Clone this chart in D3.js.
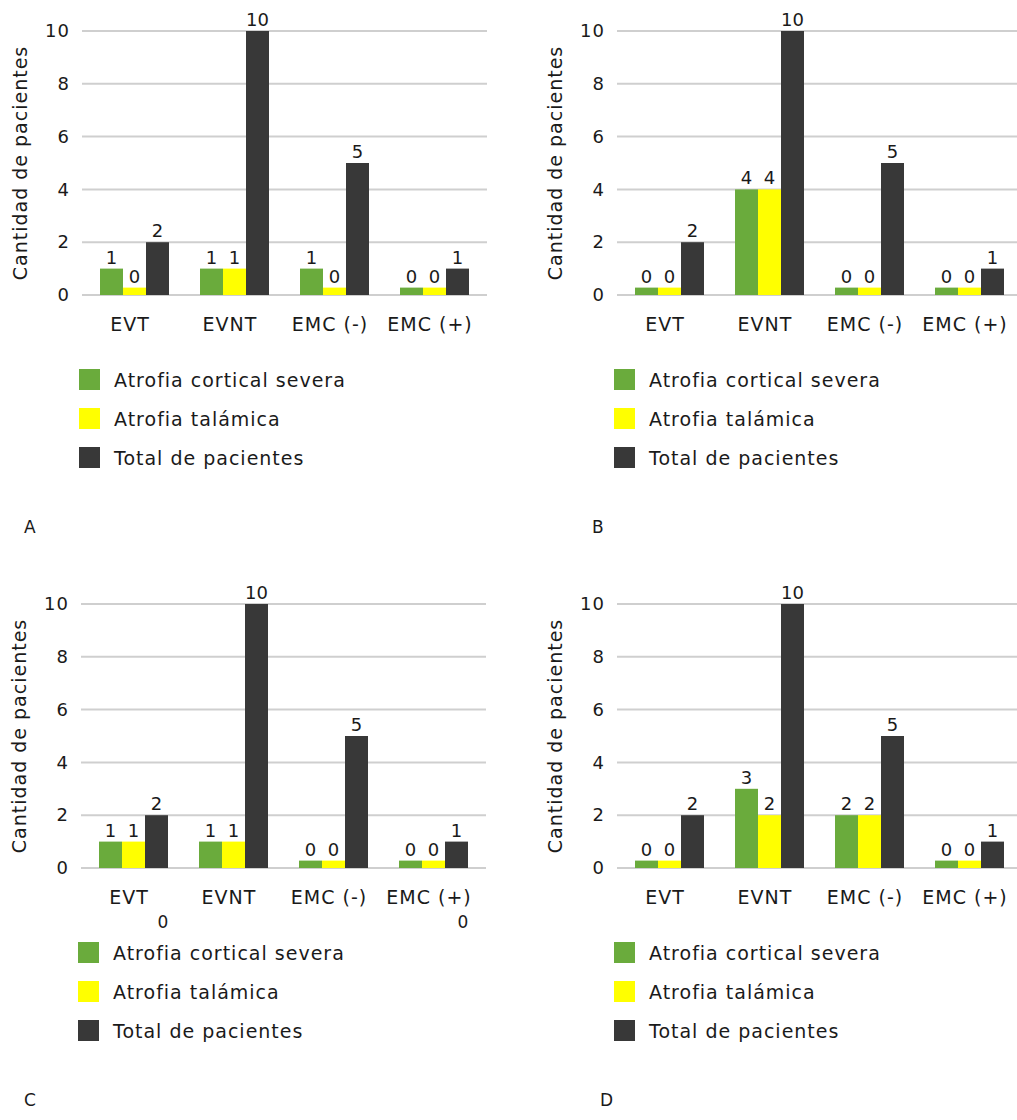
<!DOCTYPE html>
<html>
<head>
<meta charset="utf-8">
<script src="https://cdn.jsdelivr.net/npm/d3@7"></script>
<style>
  body { margin: 0; background: #fff; }
  text { font-family: "DejaVu Sans", Verdana, sans-serif; fill: #1a1a1a; }
</style>
</head>
<body>
<div id="chart"></div>
<script>
// categories and series
const categories = ["EVT", "EVNT", "EMC (-)", "EMC (+)"];
const seriesNames = ["Atrofia cortical severa", "Atrofia talámica", "Total de pacientes"];
const seriesColors = ["#6aab3c", "#ffff00", "#383838"];
const yTicks = [0, 2, 4, 6, 8, 10];
const panelLetters = ["A", "B", "C", "D"];

// values per panel
const totalPacientes = [2, 10, 5, 1];
const corticalA = [1, 1, 1, 0];
const talamicaA = [0, 1, 0, 0];
const corticalB = [0, 4, 0, 0];
const talamicaB = [0, 4, 0, 0];
const corticalC = [1, 1, 0, 0];
const talamicaC = [1, 1, 0, 0];
const corticalD = [0, 3, 2, 0];
const talamicaD = [0, 2, 2, 0];

// stray "0" labels that appear under panel C
const strayLabelsC = ["EVT", "EMC (+)"];

// zero bars are still drawn as a small stub in the original
const zeroStub = 0.28;

const panels = [
    { letter: panelLetters[0], cortical: corticalA, talamica: talamicaA, ox: 0, oy: 0, lx: 24 },
    { letter: panelLetters[1], cortical: corticalB, talamica: talamicaB, ox: 535, oy: 0, lx: 57 },
    { letter: panelLetters[2], cortical: corticalC, talamica: talamicaC, ox: -1, oy: 573, lx: 25 },
    { letter: panelLetters[3], cortical: corticalD, talamica: talamicaD, ox: 535, oy: 573, lx: 65 }
];

const width = 1017;
const height = 1120;

const svg = d3.select("#chart").append("svg")
    .attr("width", width)
    .attr("height", height)
    .style("display", "block");

svg.append("rect").attr("width", width).attr("height", height).attr("fill", "#fff");

const x = d3.scaleBand().domain(categories).range([84, 484]);
const xInner = d3.scaleBand().domain(seriesNames).range([16, 85]);
const y = d3.scaleLinear().domain([0, 10]).range([295, 31]);

panels.forEach(p => {
    const g = svg.append("g").attr("transform", `translate(${p.ox},${p.oy})`);
    const values = [p.cortical, p.talamica, totalPacientes];

    // gridlines
    g.selectAll("line.grid")
        .data(yTicks)
        .enter().append("line")
        .attr("class", "grid")
        .attr("x1", 82).attr("x2", 487)
        .attr("y1", d => y(d)).attr("y2", d => y(d))
        .attr("stroke", "#cfcfcf")
        .attr("stroke-width", 2);

    // y axis labels
    const yAxis = d3.axisLeft(y).tickValues(yTicks).tickSize(0).tickPadding(0);
    const ya = g.append("g").attr("transform", "translate(70,0)").call(yAxis);
    ya.select(".domain").remove();
    ya.selectAll("text")
        .style("font-size", "18px")
        .style("letter-spacing", "1px")
        .attr("fill", "#1a1a1a");

    // y title
    g.append("text")
        .attr("transform", "translate(20,163) rotate(-90)")
        .attr("text-anchor", "middle")
        .attr("dominant-baseline", "central")
        .style("font-size", "19px")
        .style("letter-spacing", "1px")
        .text("Cantidad de pacientes");

    // x axis labels
    const xAxis = d3.axisBottom(x).tickSize(0).tickPadding(0);
    const xa = g.append("g").attr("transform", "translate(-4,317)").call(xAxis);
    xa.select(".domain").remove();
    xa.selectAll("text")
        .style("font-size", "19px")
        .style("letter-spacing", "1px")
        .attr("fill", "#1a1a1a");

    // bars
    const groups = g.selectAll("g.cat")
        .data(categories)
        .enter().append("g")
        .attr("class", "cat")
        .attr("transform", d => `translate(${x(d)},0)`);

    groups.each(function (cat, ci) {
        const cg = d3.select(this);
        const rows = seriesNames.map((s, si) => ({ s, si, v: values[si][ci] }));
        cg.selectAll("rect")
            .data(rows)
            .enter().append("rect")
            .attr("x", d => xInner(d.s))
            .attr("width", xInner.bandwidth())
            .attr("y", d => y(Math.max(d.v, zeroStub)))
            .attr("height", d => y(0) - y(Math.max(d.v, zeroStub)))
            .attr("fill", d => seriesColors[d.si]);
        cg.selectAll("text.val")
            .data(rows)
            .enter().append("text")
            .attr("class", "val")
            .attr("x", d => xInner(d.s) + xInner.bandwidth() / 2)
            .attr("y", d => y(Math.max(d.v, zeroStub)) - 5)
            .attr("text-anchor", "middle")
            .style("font-size", "18px")
            .text(d => d.v);
    });

    if (p.letter === "C") {
        g.selectAll("text.stray")
            .data(strayLabelsC)
            .enter().append("text")
            .attr("class", "stray")
            .attr("x", d => x(d) + 80)
            .attr("y", 355)
            .attr("text-anchor", "middle")
            .style("font-size", "17px")
            .text("0");
    }

    // legend
    const leg = g.selectAll("g.leg")
        .data(seriesNames)
        .enter().append("g")
        .attr("class", "leg")
        .attr("transform", (d, i) => `translate(79,${369 + i * 39})`);
    leg.append("rect")
        .attr("width", 21).attr("height", 21)
        .attr("fill", (d, i) => seriesColors[i]);
    leg.append("text")
        .attr("x", 35).attr("y", 18)
        .style("font-size", "19px")
        .style("letter-spacing", "1px")
        .text(d => d);

    // panel letter
    g.append("text")
        .attr("x", p.lx).attr("y", 533)
        .style("font-size", "17px")
        .text(p.letter);
});
</script>
</body>
</html>
